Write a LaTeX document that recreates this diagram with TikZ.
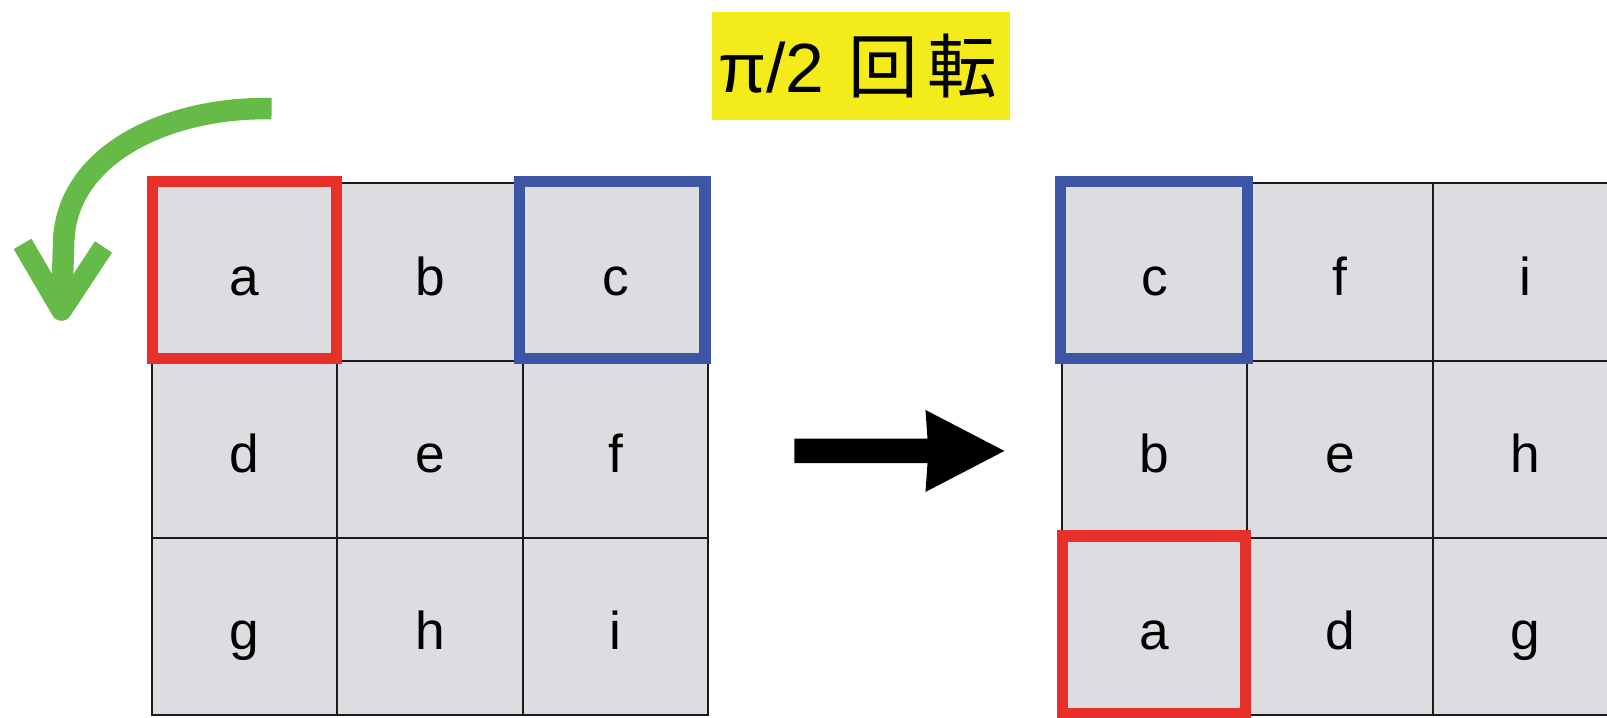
\documentclass[tikz,border=0pt]{standalone}
\usepackage{fontspec}
\setmainfont{Liberation Sans}
\newfontfamily\jpfont{Noto Sans CJK JP}
\usetikzlibrary{calc}
\definecolor{cellgrey}{HTML}{DCDDE1}
\definecolor{gridline}{HTML}{1A1A1A}
\definecolor{markred}{HTML}{E8302A}
\definecolor{markblue}{HTML}{3C56A5}
\definecolor{turngreen}{HTML}{66BA47}
\definecolor{titleyellow}{HTML}{F4EB1B}
\tikzset{
  cell/.style={draw=gridline, fill=cellgrey, line width=1pt, anchor=north west,
    minimum width=90.5pt, minimum height=86.5pt, inner sep=0pt,
    text height=22.5pt, text depth=0pt,
    font=\fontsize{26}{30}\selectfont},
  markbox/.style={line width=5.5pt},
  title/.style={fill=titleyellow, minimum width=145pt, minimum height=52.5pt,
    inner sep=0pt, font=\fontsize{34}{38}\selectfont},
}
\begin{document}
\begin{tikzpicture}[x=0.5pt,y=-0.5pt]
  \useasboundingbox (0,0) rectangle (1568,700);
  \begin{scope}
  \clip (0,0) rectangle (1568,700);
  % original 3x3 grid
  \foreach \t [count=\i from 0] in {a,b,c,d,e,f,g,h,i} {
    \pgfmathtruncatemacro{\c}{mod(\i,3)}
    \pgfmathtruncatemacro{\r}{div(\i,3)}
    \node[cell] (L\t) at ({147+181*\c},{178+173*\r}) {\t};
  }
  % grid after the quarter turn
  \foreach \t [count=\i from 0] in {c,f,i,b,e,h,a,d,g} {
    \pgfmathtruncatemacro{\c}{mod(\i,3)}
    \pgfmathtruncatemacro{\r}{div(\i,3)}
    \node[cell] (R\t) at ({1035+181*\c},{178+173*\r}) {\t};
  }
  % highlighted corners
  \draw[markbox, markred]  ($(La.north west)+(2,-1)$) rectangle ($(La.south east)+(-2,-3)$);
  \draw[markbox, markblue] ($(Lc.north west)+(-2,-1)$) rectangle ($(Lc.south east)+(-4,-3)$);
  \draw[markbox, markblue] ($(Rc.north west)+(0,-1)$) rectangle ($(Rc.south east)+(-1,-3)$);
  \draw[markbox, markred]  ($(Ra.north west)+(2,-1)$) rectangle ($(Ra.south east)+(-3,-3)$);
  \end{scope}

  % title
  \node[title] (ttl) at (840,64.5) {\hspace{-3pt}π/2\hspace{12pt}{\jpfont 回\hspace{4.5pt}転}};

  % rotation arrow
  \coordinate (gs) at (265,106);
  \coordinate (gv) at (62,240);
  \coordinate (gt) at (60,303);
  \coordinate (gl) at (22,238);
  \coordinate (gr) at (101,241);
  \draw[turngreen, line width=10.5pt] (gs) .. controls (165,104) and (62,150) .. (gv) -- (gt);
  \draw[turngreen, line width=10pt, line join=round] (gl) -- (gt) -- (gr);

  % transformation arrow
  \coordinate (bs) at (775,440);
  \coordinate (be) at (980,440);
  \fill[black] ($(bs)+(0,-12)$) -- (905,428) -- (903,400) -- (be) -- (903,480)
    -- (905,452) -- ($(bs)+(0,12)$) -- cycle;
\end{tikzpicture}
\end{document}
